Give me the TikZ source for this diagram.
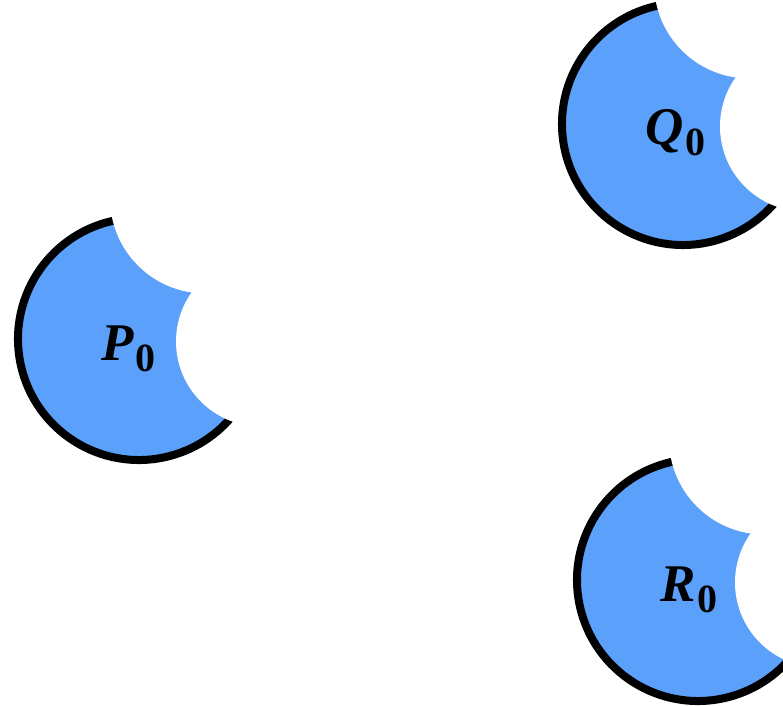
\documentclass[tikz,border=0pt]{standalone}
\usepackage{fontspec}
\setmainfont{Liberation Serif}
\definecolor{shapeblue}{RGB}{91,161,251}
\tikzset{
  bitten/.pic={
    \fill[shapeblue] (0,0) circle[radius=121];
    \draw[line width=8pt] (100:121) arc[start angle=100, end angle=320, radius=121];
    \begin{scope}
      \clip (0,0) circle[radius=127];
      \fill[white] (66.5,141) circle[radius=95.5];
      \fill[white] (122,-2.5) circle[radius=85];
    \end{scope}
  },
  lab/.style={anchor=base west, inner sep=0pt, outer sep=0pt}
}
\newcommand{\shapelabel}[1]{{\fontsize{53}{53}\selectfont\bfseries\itshape #1}\kern2pt\raisebox{-11pt}{\fontsize{40}{40}\selectfont\bfseries 0}}
\begin{document}
\begin{tikzpicture}[x=1pt,y=1pt]
  \useasboundingbox (0,0) rectangle (783,705);
  \clip (0,0) rectangle (783,705);
  \pic at (139,366) {bitten};
  \pic at (683,581) {bitten};
  \pic at (698,125) {bitten};
  \node[lab] (p0) at (101,345) {\shapelabel{P}};
  \node[lab] (q0) at (645,560) {\shapelabel{Q}};
  \node[lab] (r0) at (660,104) {\shapelabel{R}};
\end{tikzpicture}
\end{document}
